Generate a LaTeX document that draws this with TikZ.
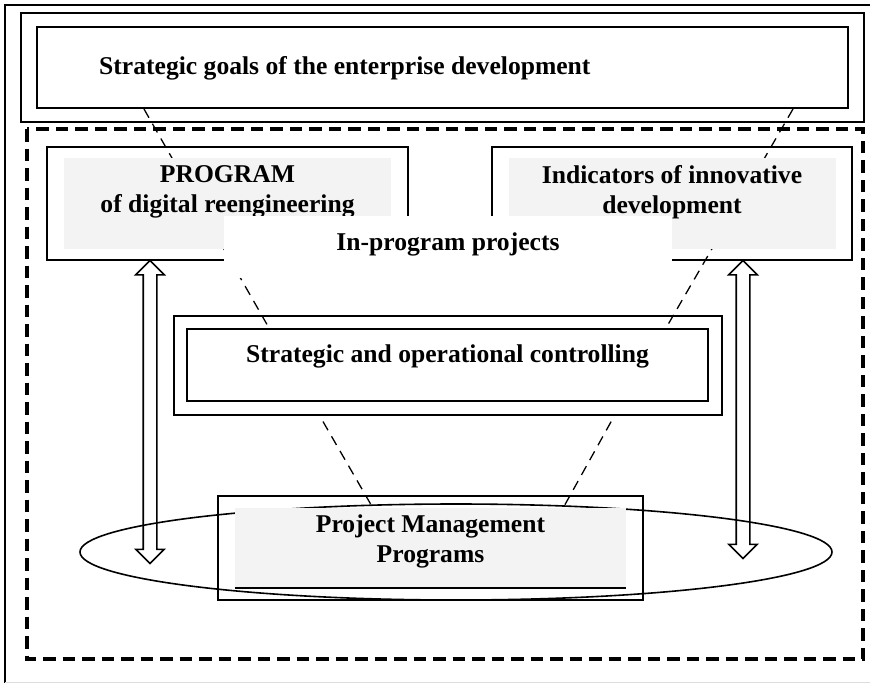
\documentclass[tikz,border=0pt]{standalone}
\usepackage{fontspec}
\setmainfont{Liberation Serif}
\usepackage{tikz}
\usetikzlibrary{arrows.meta,positioning,shapes.geometric,shapes.arrows,fit,backgrounds,calc}
\definecolor{panelGray}{HTML}{F3F3F3}
\definecolor{edgeGray}{HTML}{DDDDDD}

\begin{document}
\begin{tikzpicture}[
    x=1pt, y=-1pt,
    box/.style={rectangle, draw, line width=2pt, inner sep=0pt},
    panel/.style={rectangle, fill=panelGray, inner sep=0pt},
    txt/.style={font=\bfseries\fontsize{25.6}{30}\selectfont, align=center, inner sep=0pt},
    link/.style={line width=1.3pt, dash pattern=on 10pt off 7pt},
    hollow/.style={double arrow, draw, line width=1.6pt, rotate=90, inner xsep=0pt, inner ysep=6pt, double arrow head extend=7.5pt},
    zone/.style={line width=3.5pt, dash pattern=on 12.5pt off 7pt}
]
\useasboundingbox (0,0) rectangle (870,683);

% Page frame
\draw[line width=1.4pt] (875,5) -- (5,5) -- (5,683);
\draw[edgeGray, line width=1pt] (5,682) -- (870,682);

% Strategic goals
\node[box, minimum width=811pt, minimum height=81pt] (goals) at (442.5,67.5) {};
\node[box, fit=(goals), inner xsep=15pt, inner ysep=13pt] (goalsframe) {};
\node[txt, anchor=north west] (goalstxt) at ([xshift=63pt, yshift=-30.5pt]goals.north west) {Strategic goals of the enterprise development};

% Dashed region
\draw[zone] (27,129) rectangle (863,659);

% Program and indicators
\node[panel, minimum width=327pt, minimum height=91pt] (progbg) at (227.5,203.5) {};
\node[box, fit=(progbg), inner xsep=16.5pt, inner ysep=11pt] (prog) {};
\node[txt, below=8pt of progbg.north] (progtxt) {PROGRAM\\of digital reengineering};

\node[panel, minimum width=327pt, minimum height=91pt] (indbg) at (672,203.5) {};
\node[box, fit=(indbg), inner xsep=16.5pt, inner ysep=11pt] (ind) {};
\node[txt, below=7.5pt of indbg.north] (indtxt) {Indicators of innovative\\development};

% In-program projects
\node[fill=white, minimum width=448pt, minimum height=62pt, inner sep=0pt] (inprog) at (448,247) {};
\node[txt, below=16.5pt of inprog.north] (inprogtxt) {In-program projects};

% Controlling
\node[box, minimum width=521pt, minimum height=72pt] (ctrl) at (447.5,365) {};
\node[box, fit=(ctrl), inner xsep=12.5pt, inner ysep=12.5pt] (ctrlframe) {};
\node[txt, below=16.5pt of ctrl.north] (ctrltxt) {Strategic and operational controlling};

% Two-way arrows
\coordinate (lfoot) at (150,563);
\coordinate (rfoot) at (743,558);
\node[hollow, minimum height=303pt] (larrow) at ($(prog.south -| lfoot)!0.5!(lfoot)$) {};
\node[hollow, minimum height=298pt] (rarrow) at ($(ind.south -| rfoot)!0.5!(rfoot)$) {};

% Project management
\node[draw, ellipse, line width=1.6pt, minimum width=752pt, minimum height=96pt, inner sep=0pt] (ring) at (456,552) {};
\node[panel, minimum width=391pt, minimum height=80pt] (pmbg) at (430.5,548) {};
\node[box, fit=(pmbg), inner xsep=16.5pt, inner ysep=11.5pt] (pm) {};
\draw[line width=2pt] (pmbg.south west) -- (pmbg.south east);
\node[txt, below=6.5pt of pmbg.north] (pmtxt) {Project Management\\Programs};

% Dashed links
\begin{scope}[on background layer]
\draw[link] ([xshift=108pt]goals.south west) -- ([xshift=83pt]ctrl.north west);
\draw[link] ([xshift=-56pt]goals.south east) -- ([xshift=-43pt]ctrl.north east);
\draw[link, shorten <=7pt] ([xshift=147pt]ctrlframe.south west) -- ([xshift=138pt]pmbg.north west);
\draw[link, shorten <=7pt] ([xshift=-108pt]ctrlframe.south east) -- ([xshift=-63pt]pmbg.north east);
\end{scope}

\end{tikzpicture}
\end{document}
